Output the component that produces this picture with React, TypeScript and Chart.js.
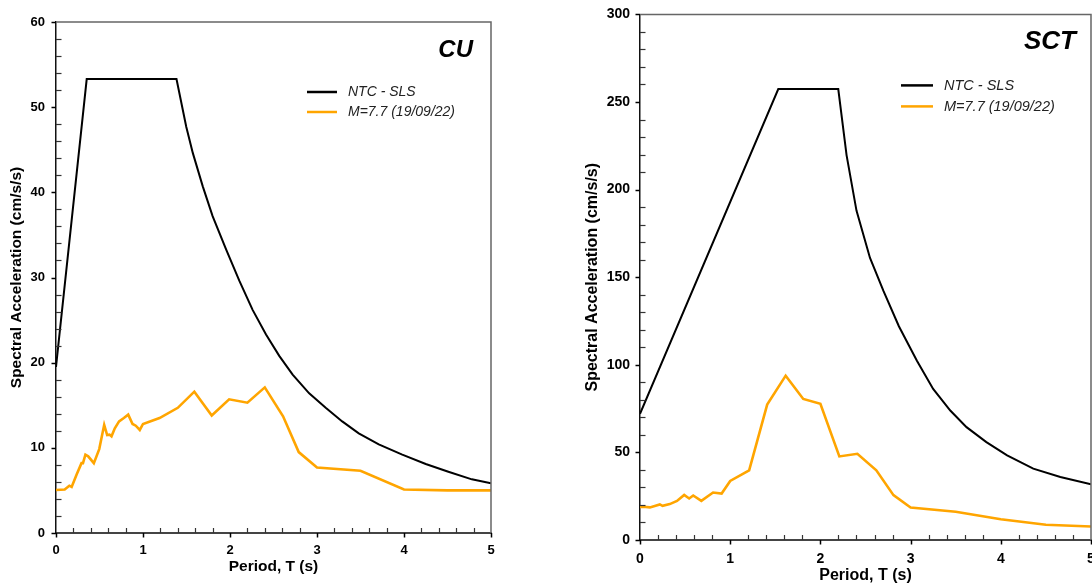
import React, { useEffect, useRef } from 'react';
import { Chart, registerables } from 'chart.js';

Chart.register(...registerables);

const FONT = '"Liberation Sans", Arial, Helvetica, sans-serif';

// ---------- CU ----------
const cuNtcPeriod = [0, 0.353, 1.385, 1.497, 1.573, 1.687, 1.8, 1.955, 2.108, 2.26, 2.414, 2.566, 2.72, 2.91, 3.1, 3.29, 3.48, 3.71, 3.98, 4.25, 4.51, 4.78, 5.0];
const cuNtcValues = [19.5, 53.3, 53.3, 47.7, 44.6, 40.7, 37.2, 33.3, 29.6, 26.2, 23.3, 20.8, 18.6, 16.4, 14.7, 13.1, 11.7, 10.4, 9.2, 8.1, 7.2, 6.3, 5.85];
const cuEqPeriod = [0, 0.1, 0.153, 0.18, 0.236, 0.293, 0.31, 0.338, 0.37, 0.435, 0.497, 0.554, 0.588, 0.615, 0.638, 0.676, 0.725, 0.78, 0.83, 0.88, 0.917, 0.963, 1.0, 1.19, 1.4, 1.59, 1.79, 1.99, 2.2, 2.4, 2.61, 2.79, 3.0, 3.5, 4.0, 4.5, 5.0];
const cuEqValues = [5.05, 5.1, 5.55, 5.4, 6.85, 8.2, 8.2, 9.2, 9.0, 8.2, 9.85, 12.7, 11.5, 11.55, 11.35, 12.3, 13.1, 13.5, 13.9, 12.8, 12.6, 12.1, 12.8, 13.5, 14.7, 16.6, 13.8, 15.7, 15.3, 17.1, 13.7, 9.5, 7.7, 7.3, 5.1, 5.0, 5.0];

// ---------- SCT ----------
const sctNtcPeriod = [0, 1.533, 2.198, 2.29, 2.4, 2.55, 2.7, 2.87, 3.07, 3.25, 3.44, 3.62, 3.84, 4.07, 4.36, 4.66, 5.0];
const sctNtcValues = [72, 257.4, 257.4, 219.7, 188, 161, 142, 122, 102.3, 86.2, 73.9, 64.4, 55.9, 48.3, 40.7, 36, 31.8];
const sctEqPeriod = [0, 0.04, 0.11, 0.22, 0.25, 0.33, 0.41, 0.49, 0.545, 0.59, 0.68, 0.81, 0.905, 1.0, 1.21, 1.41, 1.615, 1.81, 2.0, 2.21, 2.41, 2.62, 2.81, 3.0, 3.5, 4.0, 4.5, 5.0];
const sctEqValues = [18.9, 19.0, 18.6, 20.3, 19.5, 20.5, 22.3, 25.7, 23.7, 25.4, 22.3, 27.1, 26.5, 33.7, 39.8, 77.3, 93.8, 80.5, 77.7, 47.7, 49.2, 39.8, 25.6, 18.5, 16.1, 11.8, 8.7, 7.7];

const xTickLabels = ['0', '1', '2', '3', '4', '5'];
const seriesNames = ['NTC - SLS', 'M=7.7 (19/09/22)'];
const seriesColors = ['#000000', '#FFA500'];

type Cfg = {
  canvasLeft: number; width: number; height: number;
  padTop: number; padRight: number; yWidth: number; xHeight: number;
  yMax: number; yStep: number; yMinor: number;
  tickFont: number; yTickPad: number; xTickPad: number;
  axisTitleFont: number; yTitlePad: number; xTitlePad: number;
  label: string; labelFont: number; labelInset: number; labelBase: number;
  legLineFromRight: number; legLineLen: number; legTextFromRight: number; legY1: number; legY2: number; legFont: number;
  ntcT: number[]; ntc: number[]; eqT: number[]; eq: number[];
};

const decorPlugin = {
  id: 'decor',
  afterDraw(chart: any, _args: any, opts: any) {
    const { ctx, chartArea: a, scales } = chart;
    const x = scales.x, y = scales.y;
    ctx.save();
    ctx.strokeStyle = '#666';
    ctx.lineWidth = 1.5;
    ctx.beginPath();
    ctx.moveTo(a.left, a.top);
    ctx.lineTo(a.right, a.top);
    ctx.lineTo(a.right, a.bottom);
    ctx.stroke();
    // x ticks
    for (let i = 0; i <= 25; i++) {
      const px = Math.round(x.getPixelForValue(i * 0.2)) + 0.5;
      ctx.beginPath();
      if (i % 5 === 0) {
        ctx.strokeStyle = '#000'; ctx.lineWidth = 1.5;
        ctx.moveTo(px, a.bottom); ctx.lineTo(px, a.bottom + 4.5);
      } else {
        ctx.strokeStyle = '#333'; ctx.lineWidth = 1.2;
        ctx.moveTo(px, a.bottom); ctx.lineTo(px, a.bottom - 5);
      }
      ctx.stroke();
    }
    // y ticks
    const n = Math.round(opts.yMax / opts.yMinor);
    const per = Math.round(opts.yStep / opts.yMinor);
    for (let i = 0; i <= n; i++) {
      const py = Math.round(y.getPixelForValue(i * opts.yMinor)) + 0.5;
      ctx.beginPath();
      if (i % per === 0) {
        ctx.strokeStyle = '#000'; ctx.lineWidth = 1.5;
        ctx.moveTo(a.left - 4.5, py); ctx.lineTo(a.left, py);
      } else {
        ctx.strokeStyle = '#333'; ctx.lineWidth = 1.2;
        ctx.moveTo(a.left, py); ctx.lineTo(a.left + 5.5, py);
      }
      ctx.stroke();
    }
    // panel label
    ctx.fillStyle = '#000';
    ctx.font = `italic bold ${opts.labelFont}px ${FONT}`;
    ctx.textAlign = 'right';
    ctx.textBaseline = 'alphabetic';
    ctx.fillText(opts.label, a.right - opts.labelInset, a.top + opts.labelBase);
    // legend
    const ys = [opts.legY1, opts.legY2];
    for (let k = 0; k < 2; k++) {
      const ly = a.top + ys[k];
      ctx.strokeStyle = seriesColors[k];
      ctx.lineWidth = 2.5;
      ctx.beginPath();
      ctx.moveTo(a.right - opts.legLineFromRight, ly);
      ctx.lineTo(a.right - opts.legLineFromRight + opts.legLineLen, ly);
      ctx.stroke();
      ctx.fillStyle = '#222';
      ctx.font = `italic ${opts.legFont}px ${FONT}`;
      ctx.textAlign = 'left';
      ctx.textBaseline = 'middle';
      ctx.fillText(seriesNames[k], a.right - opts.legTextFromRight, ly + 0.5);
    }
    ctx.restore();
  },
};

function SpectrumChart({ cfg }: { cfg: Cfg }) {
  const ref = useRef<HTMLCanvasElement | null>(null);
  useEffect(() => {
    if (!ref.current) return;
    const ntcData = cfg.ntcT.map((t, i) => ({ x: t, y: cfg.ntc[i] }));
    const eqData = cfg.eqT.map((t, i) => ({ x: t, y: cfg.eq[i] }));
    const chart = new Chart(ref.current, {
      type: 'line',
      data: {
        datasets: [
          { label: seriesNames[1], data: eqData, borderColor: seriesColors[1], borderWidth: 2.6, pointRadius: 0, tension: 0, fill: false },
          { label: seriesNames[0], data: ntcData, borderColor: seriesColors[0], borderWidth: 2, pointRadius: 0, tension: 0, fill: false },
        ],
      },
      options: {
        responsive: false,
        animation: false,
        events: [],
        layout: { padding: { top: cfg.padTop, right: cfg.padRight, left: 0, bottom: 0 } },
        plugins: {
          legend: { display: false },
          tooltip: { enabled: false },
          decor: {
            yMax: cfg.yMax, yStep: cfg.yStep, yMinor: cfg.yMinor,
            label: cfg.label, labelFont: cfg.labelFont, labelInset: cfg.labelInset, labelBase: cfg.labelBase,
            legLineFromRight: cfg.legLineFromRight, legLineLen: cfg.legLineLen, legTextFromRight: cfg.legTextFromRight,
            legY1: cfg.legY1, legY2: cfg.legY2, legFont: cfg.legFont,
          },
        } as any,
        scales: {
          x: {
            type: 'linear',
            min: 0,
            max: 5,
            afterFit: (s: any) => { s.height = cfg.xHeight; },
            grid: { display: true, color: 'rgba(0,0,0,0)', drawOnChartArea: false, drawTicks: true, tickLength: 4 },
            border: { display: true, color: '#444', width: 2 },
            ticks: {
              stepSize: 1,
              padding: cfg.xTickPad,
              color: '#000',
              maxRotation: 0,
              font: { family: FONT, size: cfg.tickFont, weight: 'bold' },
              callback: (v: any) => xTickLabels[Math.round(Number(v))] ?? '',
            },
            title: {
              display: true,
              text: 'Period, T (s)',
              color: '#000',
              font: { family: FONT, size: cfg.axisTitleFont, weight: 'bold', lineHeight: 1.2 },
              padding: { top: 0, bottom: cfg.xTitlePad },
            },
          },
          y: {
            type: 'linear',
            min: 0,
            max: cfg.yMax,
            afterFit: (s: any) => { s.width = cfg.yWidth; },
            grid: { display: true, color: 'rgba(0,0,0,0)', drawOnChartArea: false, drawTicks: true, tickLength: 4 },
            border: { display: true, color: '#111', width: 1.5 },
            ticks: {
              stepSize: cfg.yStep,
              padding: cfg.yTickPad,
              color: '#000',
              font: { family: FONT, size: cfg.tickFont, weight: 'bold' },
            },
            title: {
              display: true,
              text: 'Spectral Acceleration (cm/s/s)',
              color: '#000',
              font: { family: FONT, size: cfg.axisTitleFont, weight: 'bold', lineHeight: 1.2 },
              padding: { top: cfg.yTitlePad, bottom: 0 },
            },
          },
        },
      },
      plugins: [decorPlugin as any],
    } as any);
    return () => chart.destroy();
  }, [cfg]);
  return (
    <canvas
      ref={ref}
      width={cfg.width}
      height={cfg.height}
      style={{ position: 'absolute', left: cfg.canvasLeft, top: 0, width: cfg.width, height: cfg.height }}
    />
  );
}

const cuCfg: Cfg = {
  canvasLeft: 0, width: 520, height: 587,
  padTop: 22, padRight: 29, yWidth: 56, xHeight: 54,
  yMax: 60, yStep: 10, yMinor: 2,
  tickFont: 13, yTickPad: 7, xTickPad: 6,
  axisTitleFont: 15.5, yTitlePad: 7.7, xTitlePad: 10.7,
  label: 'CU', labelFont: 24, labelInset: 18, labelBase: 35,
  legLineFromRight: 184, legLineLen: 30, legTextFromRight: 143, legY1: 70, legY2: 90, legFont: 14,
  ntcT: cuNtcPeriod, ntc: cuNtcValues, eqT: cuEqPeriod, eq: cuEqValues,
};

const sctCfg: Cfg = {
  canvasLeft: 570, width: 535, height: 587,
  padTop: 12, padRight: 14, yWidth: 70, xHeight: 47,
  yMax: 300, yStep: 50, yMinor: 10,
  tickFont: 14, yTickPad: 6, xTickPad: 7,
  axisTitleFont: 16, yTitlePad: 12.9, xTitlePad: 1.4,
  label: 'SCT', labelFont: 26, labelInset: 15, labelBase: 35,
  legLineFromRight: 190, legLineLen: 32, legTextFromRight: 147, legY1: 71, legY2: 92, legFont: 14.5,
  ntcT: sctNtcPeriod, ntc: sctNtcValues, eqT: sctEqPeriod, eq: sctEqValues,
};

export default function App() {
  return (
    <div style={{ position: 'fixed', left: 0, top: 0, width: 1092, height: 587, overflow: 'hidden', background: '#fff' }}>
      <SpectrumChart cfg={cuCfg} />
      <SpectrumChart cfg={sctCfg} />
    </div>
  );
}
